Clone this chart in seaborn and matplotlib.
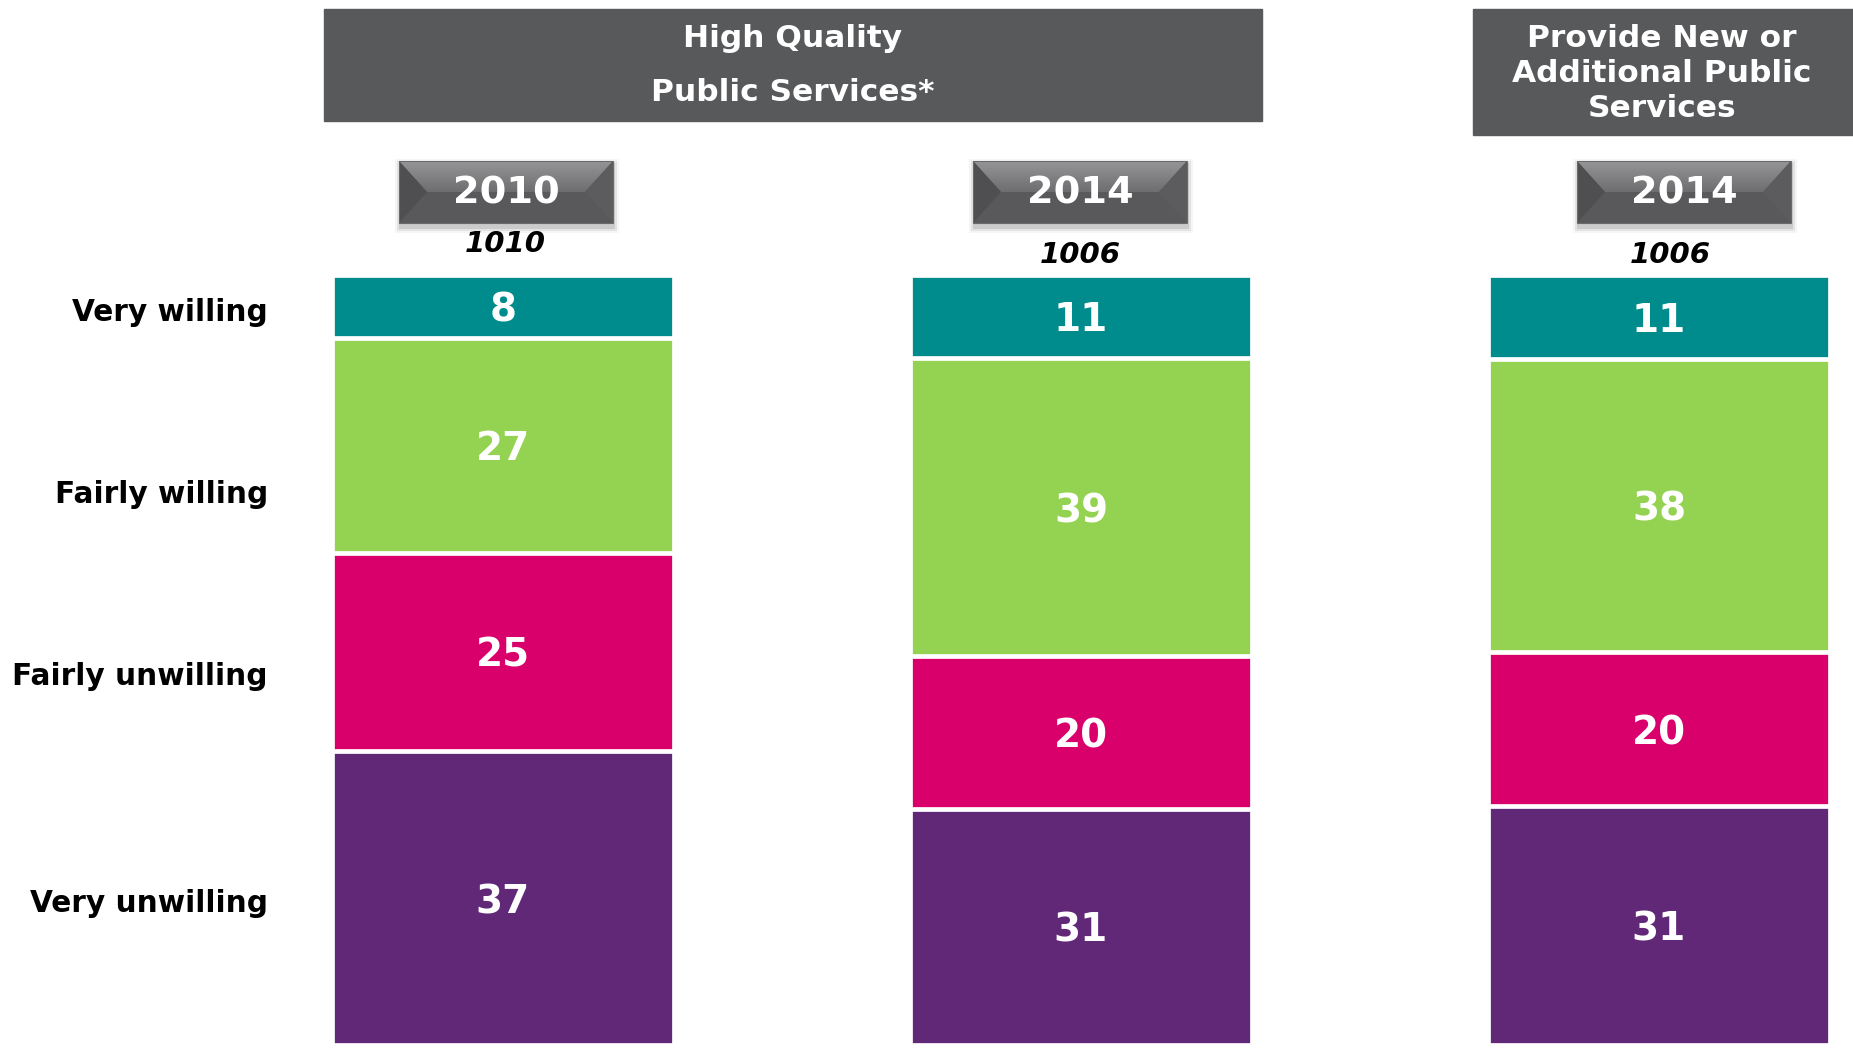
import numpy as np
import pandas as pd
import matplotlib
matplotlib.use("Agg")
import matplotlib.pyplot as plt
from matplotlib.patches import Rectangle, Polygon
from matplotlib.colors import LinearSegmentedColormap
import seaborn as sns

sns.set_theme(style="white")
plt.rcParams['font.family'] = ['DejaVu Sans']

# data
groups = ["High Quality 2010", "High Quality 2014", "New or Additional 2014"]
years = ["2010", "2014", "2014"]
bases = ["1010", "1006", "1006"]
answers = ["Very willing", "Fairly willing", "Fairly unwilling", "Very unwilling"]
very_willing = [8, 11, 11]
fairly_willing = [27, 39, 38]
fairly_unwilling = [25, 20, 20]
very_unwilling = [37, 31, 31]
colors = ["#008C8C", "#94D352", "#DA006C", "#622878"]

series = [very_willing, fairly_willing, fairly_unwilling, very_unwilling]
vals = np.array(series, dtype=float)
share = vals / vals.sum(axis=0) * 100  # every bar filled to 100

W, H = 1853, 1049
fig = plt.figure(figsize=(W / 100, H / 100), dpi=100)

# bar axes: y=100 at px ~275, y=0 at px ~1045
ax = fig.add_axes([0, (H - 1045) / H, 1, (1045 - 274.5) / H])
# layered bars (top answer first, each next one covers the lower part)
for k in range(4):
    cum = share[k:].sum(axis=0)
    df = pd.DataFrame({"group": groups, "cum": cum})
    sns.barplot(data=df, x="group", y="cum", order=groups, color=colors[k],
                saturation=1, width=0.592, edgecolor="white", linewidth=3.4,
                errorbar=None, ax=ax)
ax.set_xlim(-503 / 578, (W - 503) / 578)
ax.set_ylim(0, 100)
ax.axis("off")

# numbers inside segments
for i in range(3):
    below = 0
    for k in range(3, -1, -1):
        mid = below + share[k, i] / 2
        ax.text(i, mid, str(int(vals[k, i])), ha="center", va="center_baseline",
                color="white", fontsize=28, fontweight="bold")
        below += share[k, i]

# overlay in pixel coords for headers, badges and row labels
ov = fig.add_axes([0, 0, 1, 1])
ov.patch.set_alpha(0)
ov.axis("off")

header_grey = "#58595B"
ov.add_patch(Rectangle((324, 9), 938, 112, color=header_grey))
ov.text(793, 47, "High Quality", ha="center", va="baseline", color="white",
        fontsize=22.5, fontweight="bold")
ov.text(793, 101, "Public Services*", ha="center", va="baseline", color="white",
        fontsize=22.5, fontweight="bold")
ov.add_patch(Rectangle((1473, 9), 380, 126, color=header_grey))
for txt, yb in zip(["Provide New or", "Additional Public", "Services"], [47, 82, 117]):
    ov.text(1662, yb, txt, ha="center", va="baseline", color="white",
            fontsize=22.5, fontweight="bold")

top_cmap = LinearSegmentedColormap.from_list("bev", ["#959597", "#6e6e70"])


def badge(x0, y0, w, h, label):
    x1, y1 = x0 + w, y0 + h
    ym = y0 + h / 2
    b = 28
    # soft shadow
    for g, a in [(6, 0.04), (4, 0.07), (2, 0.10)]:
        ov.add_patch(Rectangle((x0 - g + 2, y0 + 4 - g), w + 2 * g - 2, h + 2 * g,
                               color="black", alpha=a, lw=0))
    ov.add_patch(Rectangle((x0, y0), w, h, color="#59595b", lw=0))
    top = Polygon([(x0, y0), (x1, y0), (x1 - b, ym), (x0 + b, ym)], closed=True,
                  facecolor="none", edgecolor="none")
    ov.add_patch(top)
    grad = np.linspace(0, 1, 50).reshape(-1, 1)
    im = ov.imshow(grad, extent=(x0, x1, ym, y0), cmap=top_cmap, aspect="auto",
                   origin="upper", zorder=2)
    im.set_clip_path(top)
    ov.add_patch(Polygon([(x0, y0), (x0 + b, ym), (x0, y1)], closed=True,
                         color="#4f4f51", lw=0, zorder=3))
    ov.add_patch(Polygon([(x1, y0), (x1 - b, ym), (x1, y1)], closed=True,
                         color="#5c5c5e", lw=0, zorder=3))
    ov.add_patch(Rectangle((x0, y0), w, h, fill=False, edgecolor="#6a6a6a", lw=0.8, zorder=4))
    ov.text(x0 + w / 2, 204, label, ha="center", va="baseline", color="white",
            fontsize=27.5, fontweight="bold", zorder=5)


badge_x = [399, 973, 1577]
for bx, yr in zip(badge_x, years):
    badge(bx, 161, 214, 62, yr)

base_x = [505, 1080, 1670]
base_y = [252, 263, 263]
for bx, by, t in zip(base_x, base_y, bases):
    ov.text(bx, by, t, ha="center", va="baseline", color="black",
            fontsize=21, fontweight="bold", style="italic")

row_y = [321, 503, 685, 912]
for t, yb in zip(answers, row_y):
    ov.text(268, yb, t, ha="right", va="baseline", color="black",
            fontsize=21.3, fontweight="bold")

ov.set_xlim(0, W)
ov.set_ylim(H, 0)

fig.savefig("out.png", dpi=100)
